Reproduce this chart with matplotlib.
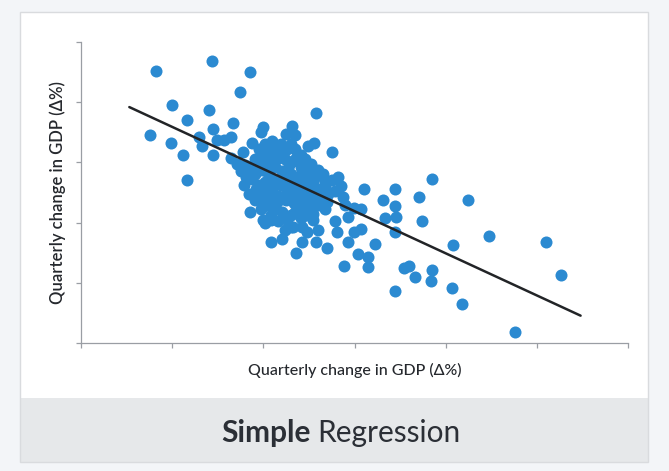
import matplotlib
matplotlib.use("Agg")
import matplotlib.pyplot as plt
from matplotlib.patches import Rectangle

# Quarterly change in GDP (%): explanatory variable (x) and response (y)
gdp_x = [
    0.82, 1.44, 1.85, 1.74, 1.00, 1.40, 2.58, 0.76, 1.16, 1.45, 1.67, 2.00, 1.97,
    2.31, 2.25, 2.35, 1.29, 1.33, 1.49, 1.57, 1.64, 0.99, 1.12, 1.45, 1.65, 1.78,
    1.16, 1.85, 2.08, 2.21, 2.36, 2.42, 2.58, 2.70, 2.00, 2.30, 2.42, 2.49, 2.56,
    2.75, 1.88, 2.82, 2.85, 2.87, 2.68, 3.10, 3.44, 3.85, 3.71, 3.31, 3.44, 3.45,
    3.34, 2.99, 2.93, 4.24, 3.74, 3.07, 2.99, 2.81, 3.44, 2.93, 3.23, 4.08, 4.47,
    5.10, 3.04, 3.15, 3.15, 2.88, 3.54, 3.60, 3.66, 3.85, 3.84, 3.44, 4.07, 4.18,
    5.27, 4.76, 3.07, 2.41, 2.55, 2.35, 2.26, 2.33, 2.02, 2.08,
    1.71, 1.76, 1.81, 1.79, 1.86, 1.91, 1.95, 2.02, 2.10, 2.19, 2.26, 2.35, 2.41,
    1.99, 2.08, 2.16, 2.24, 2.32, 2.46, 2.52, 2.60, 2.65, 1.91, 1.99, 2.05, 2.13,
    2.21, 2.30, 2.38, 2.46, 2.54, 2.63, 2.71, 2.79, 1.95, 2.02, 2.10, 2.19, 2.27,
    2.36, 2.45, 2.54, 2.60, 2.68, 1.99, 2.08, 2.16, 2.25, 2.34, 2.43, 2.52, 2.03,
    2.12, 2.21, 2.30, 2.41, 2.08, 2.16, 2.24, 1.84, 1.91, 1.97, 2.48, 2.60, 2.79,
    2.90,
    1.80, 1.88, 1.95, 2.05, 2.12, 2.20, 2.28, 2.36, 2.42, 2.50, 2.57, 2.05, 2.13,
    2.22, 2.30, 2.40, 2.48, 2.57, 2.15, 2.23, 2.32, 2.40, 2.50, 2.62, 2.70, 1.92,
    2.00, 2.10, 2.38, 2.47, 2.55, 2.68, 2.75, 2.00, 2.12, 2.30,
]
gdp_y = [
    4.52, 4.68, 4.50, 4.17, 3.95, 3.87, 3.82, 3.45, 3.70, 3.55, 3.65, 3.58, 3.50,
    3.60, 3.47, 3.45, 3.43, 3.27, 3.37, 3.38, 3.43, 3.32, 3.13, 3.13, 3.08, 3.17,
    2.70, 2.17, 1.68, 1.72, 1.50, 1.67, 1.67, 1.57, 2.05, 1.92, 1.93, 3.28, 3.33,
    3.18, 3.33, 2.75, 2.60, 2.42, 2.67, 2.55, 2.55, 2.73, 2.42, 2.37, 2.27, 2.10,
    2.08, 2.25, 2.10, 2.37, 2.02, 1.90, 1.85, 1.85, 1.85, 1.68, 1.65, 1.62, 1.78,
    1.67, 1.48, 1.43, 1.27, 1.28, 1.25, 1.28, 1.10, 1.22, 1.03, 0.87, 0.92, 0.65,
    1.13, 0.18, 2.22, 2.93, 2.05, 2.17, 2.05, 1.92, 2.00, 2.05,
    2.97, 2.85, 2.75, 2.63, 2.88, 3.05, 3.22, 3.30, 3.35, 3.30, 3.22, 3.22, 3.13,
    3.08, 3.13, 3.08, 3.05, 3.02, 3.05, 2.97, 2.88, 2.80, 2.80, 2.88, 2.97, 2.92,
    2.85, 2.80, 2.75, 2.72, 2.67, 2.55, 2.47, 2.52, 2.63, 2.68, 2.72, 2.63, 2.58,
    2.55, 2.47, 2.42, 2.30, 2.22, 2.47, 2.52, 2.45, 2.38, 2.33, 2.27, 2.22, 2.30,
    2.25, 2.18, 2.12, 2.08, 2.13, 2.02, 1.88, 2.47, 2.38, 2.22, 1.85, 1.88, 2.02,
    2.30,
    2.95, 2.72, 2.90, 2.82, 3.00, 3.15, 2.95, 3.08, 2.88, 2.80, 2.75, 2.60, 2.62,
    2.72, 2.68, 2.62, 2.58, 2.50, 2.35, 2.45, 2.45, 2.40, 2.35, 2.40, 2.35, 2.55,
    2.38, 2.40, 2.20, 2.12, 2.15, 2.60, 2.70, 3.20, 3.22, 3.30,
]

# Fitted regression line
fit_slope = -0.70
fit_intercept = 4.29
fit_x_range = [0.53, 5.48]

x_ticks = [0, 1, 2, 3, 4, 5, 6]
y_ticks = [0, 1, 2, 3, 4, 5]

axis_label = "Quarterly change in GDP (\u0394%)"
fonts = ["Lato", "DejaVu Sans"]

fig = plt.figure(figsize=(6.69, 4.71), dpi=100)
fig.patch.set_facecolor("#f3f5f8")

# card background, caption band and border
fig.patches.append(Rectangle((0.030, 0.019), 0.939, 0.956, transform=fig.transFigure,
                             facecolor="white", edgecolor="none", zorder=-3))
fig.patches.append(Rectangle((0.030, 0.019), 0.939, 0.136, transform=fig.transFigure,
                             facecolor="#e6e8ea", edgecolor="none", zorder=-2))
fig.patches.append(Rectangle((0.030, 0.019), 0.939, 0.956, transform=fig.transFigure,
                             facecolor="none", edgecolor="#d9dbde", linewidth=1.0, zorder=-1))

ax = fig.add_axes([0.1211, 0.2718, 0.8176, 0.639])
ax.set_zorder(2)
ax.set_facecolor("none")
ax.scatter(gdp_x, gdp_y, s=75, color="#2b8ad1", linewidths=0, zorder=2)

lx = fit_x_range
ly = [fit_intercept + fit_slope * v for v in lx]
ax.plot(lx, ly, color="#222427", linewidth=1.8, zorder=3, solid_capstyle="round")

ax.set_xlim(x_ticks[0], x_ticks[-1])
ax.set_ylim(y_ticks[0], y_ticks[-1])
ax.set_xticks(x_ticks)
ax.set_yticks(y_ticks)
ax.set_xticklabels([])
ax.set_yticklabels([])
ax.tick_params(direction="out", length=3.5, width=0.9, color="#9a9ea4")
for side in ("top", "right"):
    ax.spines[side].set_visible(False)
for side in ("left", "bottom"):
    ax.spines[side].set_color("#9a9ea4")
    ax.spines[side].set_linewidth(0.9)

ax.set_xlabel(axis_label, family=fonts, fontsize=11.5, fontweight="medium",
              color="#25282d", labelpad=7)
ax.set_ylabel(axis_label, family=fonts, fontsize=12, fontweight="semibold",
              color="#25282d", labelpad=4)

# caption with a bold first word
cap_x = 0.510
cap_y = 0.080
gap = 0.010
t1 = fig.text(cap_x, cap_y, "Simple", family=fonts, fontsize=21.5, fontweight="bold",
              color="#2b2f36", ha="right", va="center")
t2 = fig.text(cap_x, cap_y, "Regression", family=fonts, fontsize=21.5,
              color="#2b2f36", ha="left", va="center")
fig.canvas.draw()
r = fig.canvas.get_renderer()
w1 = t1.get_window_extent(r).width / fig.bbox.width
w2 = t2.get_window_extent(r).width / fig.bbox.width
shift = (w1 - w2) / 2
t1.set_x(cap_x + shift - gap / 2)
t2.set_x(cap_x + shift + gap / 2)

fig.savefig("out.png", dpi=100, facecolor=fig.get_facecolor())
